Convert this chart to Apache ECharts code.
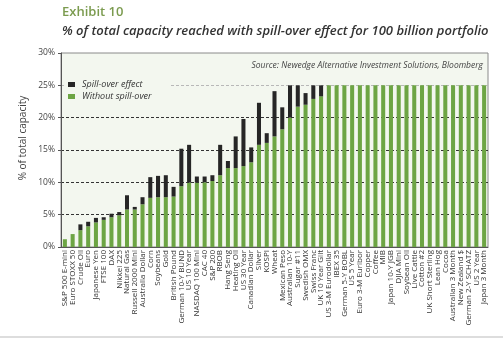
<!DOCTYPE html>
<html>
<head>
<meta charset="utf-8">
<script src="https://cdn.jsdelivr.net/npm/echarts@6/dist/echarts.min.js"></script>
<style>
html,body{margin:0;padding:0;background:#fff;}
#chart{width:503px;height:340px;}
</style>
</head>
<body>
<div id="chart"></div>
<script>
var categories = ["S&P 500 E-mini","Euro STOXX 50","Crude Oil","Euro","Japanese Yen","FTSE 100","DAX","Nikkei 225","Natural Gas","Russell 2000 Mini","Australia Dollar","Corn","Soybeans","Gold","British Pound","German 10-Y BUND","US 10 Year","NASDAQ 100 Mini","CAC 40","S&P 200","RBOB","Hang Seng","Heating Oil","US 30 Year","Canadian Dollar","Silver","KOSPI","Wheat","Mexican Peso","Australian 10-Y","Sugar #11","Swedish OMX","Swiss Franc","UK 10 Year Gilt","US 3-M Eurodollar","IBEX 35","German 5-Y BOBL","US 5 Year","Euro 3-M Euribor","Copper","Coffee","MIB","Japan 10-Y JGB","DJIA Mini","Soybean Oil","Live Cattle","Cotton #2","UK Short Sterling","Lean Hog","Cocoa","Australian 3 Month","New Zealand $","German 2-Y SCHATZ","US 2 Year","Japan 3 Month"];
var withoutSpill = [1.2,2.0,2.6,3.2,3.8,4.2,4.6,4.9,5.8,5.8,6.6,7.6,7.7,7.7,7.8,9.4,9.95,9.95,10.0,10.2,11.1,12.2,12.2,12.5,13.1,15.8,16.1,17.1,18.2,20.0,21.7,22.0,22.9,23.3,25,25,25,25,25,25,25,25,25,25,25,25,25,25,25,25,25,25,25,25,25];
var spillOver = [0,0,0.9,0.7,0.7,0.4,0.55,0.5,2.2,0.4,1.1,3.2,3.3,3.4,1.5,5.8,5.85,0.95,0.9,0.9,4.7,1.1,4.9,7.3,2.3,6.5,1.5,7.0,3.4,5.0,3.3,1.8,2.1,1.7,0,0,0,0,0,0,0,0,0,0,0,0,0,0,0,0,0,0,0,0,0];
var yTicks = [0,5,10,15,20,25,30];
var titleTop = "Exhibit 10";
var titleMain = "% of total capacity reached with spill-over effect for 100 billion portfolio";
var sourceText = "Source: Newedge Alternative Investment Solutions, Bloomberg";
var yName = "% of total capacity";

var chart = echarts.init(document.getElementById('chart'), null, {renderer:'canvas'});
var FONT = '"Liberation Sans Narrow","Open Sans","Noto Sans",sans-serif';
var FONT2 = '"Open Sans","Noto Sans",sans-serif';
chart.setOption({
  animation:false,
  backgroundColor:'#fff',
  grid:{left:61,right:15,top:53,bottom:93,show:true,backgroundColor:'#f3f7ef',borderColor:'#8a8a8a',borderWidth:1},
  legend:{
    orient:'vertical',left:66,top:78,itemWidth:7,itemHeight:5,itemGap:3,
    icon:'rect',
    padding:[2,18,2,2],
    backgroundColor:'#f3f7ef',
    data:['Spill-over effect','Without spill-over'],
    textStyle:{fontFamily:FONT2,fontStyle:'italic',fontSize:9,color:'#333',padding:[0,0,0,2]}
  },
  xAxis:{
    type:'category',data:categories,
    axisLine:{lineStyle:{color:'#555',width:1}},
    axisTick:{show:false},
    axisLabel:{rotate:90,interval:0,fontSize:8,color:'#333',fontFamily:FONT,margin:3}
  },
  yAxis:{
    type:'value',min:0,max:30,interval:5,
    axisLine:{show:true,lineStyle:{color:'#555'}},
    axisTick:{show:true,length:3,lineStyle:{color:'#555'}},
    axisLabel:{formatter:function(v){return v+'%';},fontSize:8.5,color:'#444',fontFamily:FONT2,margin:6},
    splitLine:{show:true,lineStyle:{type:[3,2],width:1,color:['#444','#333','#333','#333','#333','#b8b8b8','rgba(0,0,0,0)']}}
  },
  series:[
    {name:'Without spill-over',type:'bar',stack:'a',data:withoutSpill,barWidth:'52%',itemStyle:{color:'#6da544'}},
    {name:'Spill-over effect',type:'bar',stack:'a',data:spillOver,barWidth:'52%',itemStyle:{color:'#262626'}}
  ],
  graphic:[
    {type:'text',left:62,top:6,style:{text:titleTop,fontFamily:FONT2,fontWeight:600,fontSize:13,fill:'#7b9b4f'}},
    {type:'text',left:62,top:25,style:{text:titleMain,fontFamily:FONT2,fontStyle:'italic',fontWeight:600,fontSize:13,fill:'#333'}},
    {type:'text',right:20,top:61,style:{text:sourceText,fontFamily:FONT2,fontStyle:'italic',fontSize:8.5,fill:'#444'}},
    {type:'text',x:23,y:138,rotation:Math.PI/2,style:{text:yName,fontFamily:FONT2,fontSize:10,fill:'#444',align:'center',verticalAlign:'middle'}},
    {type:'line',shape:{x1:0,y1:337,x2:503,y2:337},style:{stroke:'#bbb',lineWidth:1}}
  ]
});
</script>
</body>
</html>
